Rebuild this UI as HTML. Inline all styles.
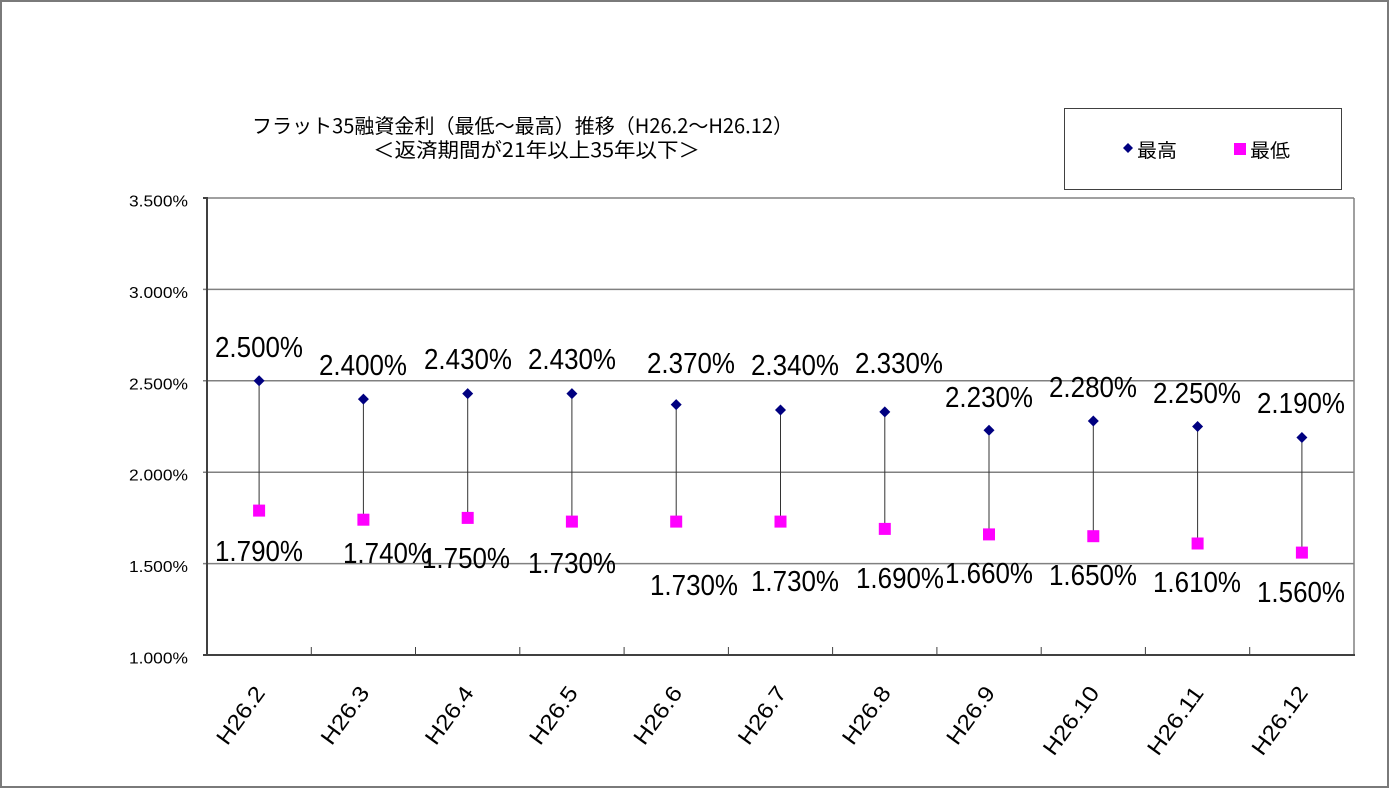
<!DOCTYPE html>
<html><head><meta charset="utf-8">
<style>
html,body{margin:0;padding:0;background:#fff;}
svg{display:block;}
text{font-family:"Liberation Sans","Noto Sans CJK JP",sans-serif;fill:#000;}
.jp{font-family:"Noto Sans CJK JP","Liberation Sans",sans-serif;}
</style></head>
<body>
<svg width="1391" height="790" viewBox="0 0 1391 790" xmlns="http://www.w3.org/2000/svg">
<rect x="0" y="0" width="1391" height="790" fill="#fff"/>
<rect x="1" y="1" width="1387" height="786" fill="none" stroke="#7a7a7a" stroke-width="2"/>

<!-- title -->
<text class="jp" x="252" y="133" font-size="20" textLength="541" lengthAdjust="spacingAndGlyphs">フラット35融資金利（最低～最高）推移（H26.2～H26.12）</text>
<text class="jp" x="373" y="157" font-size="20" textLength="327" lengthAdjust="spacingAndGlyphs">＜返済期間が21年以上35年以下＞</text>

<!-- legend -->
<rect x="1064.5" y="108.5" width="277" height="81" fill="#fff" stroke="#404040" stroke-width="1"/>
<polygon points="1128,143 1133,148 1128,153 1123,148" fill="#000080"/>
<text class="jp" x="1137" y="157" font-size="19" textLength="40" lengthAdjust="spacingAndGlyphs">最高</text>
<rect x="1234" y="143" width="12" height="12" fill="#ff00ff"/>
<text class="jp" x="1250" y="157" font-size="19" textLength="40" lengthAdjust="spacingAndGlyphs">最低</text>

<!-- plot area -->
<g stroke="#808080" stroke-width="1.5" fill="none">
<line x1="203" y1="289.4" x2="1354" y2="289.4"/>
<line x1="203" y1="380.8" x2="1354" y2="380.8"/>
<line x1="203" y1="472.2" x2="1354" y2="472.2"/>
<line x1="203" y1="563.6" x2="1354" y2="563.6"/>
<line x1="207" y1="198" x2="1354" y2="198"/>
<line x1="1354" y1="198" x2="1354" y2="655"/>
</g>
<line x1="203" y1="198" x2="207" y2="198" stroke="#404040" stroke-width="2"/>
<line x1="203" y1="655" x2="207" y2="655" stroke="#404040" stroke-width="2"/>
<line x1="207" y1="197" x2="207" y2="656" stroke="#404040" stroke-width="2"/>
<line x1="206" y1="655" x2="1355" y2="655" stroke="#404040" stroke-width="2"/>
<g stroke="#404040" stroke-width="1">
<line x1="311.3" y1="647" x2="311.3" y2="655"/>
<line x1="415.5" y1="647" x2="415.5" y2="655"/>
<line x1="519.8" y1="647" x2="519.8" y2="655"/>
<line x1="624.1" y1="647" x2="624.1" y2="655"/>
<line x1="728.4" y1="647" x2="728.4" y2="655"/>
<line x1="832.6" y1="647" x2="832.6" y2="655"/>
<line x1="936.9" y1="647" x2="936.9" y2="655"/>
<line x1="1041.2" y1="647" x2="1041.2" y2="655"/>
<line x1="1145.4" y1="647" x2="1145.4" y2="655"/>
<line x1="1249.7" y1="647" x2="1249.7" y2="655"/>
</g>

<!-- y labels -->
<g font-size="15.5" text-anchor="end">
<text x="188" y="206.5" textLength="59" lengthAdjust="spacingAndGlyphs">3.500%</text>
<text x="188" y="298" textLength="59" lengthAdjust="spacingAndGlyphs">3.000%</text>
<text x="188" y="389.3" textLength="59" lengthAdjust="spacingAndGlyphs">2.500%</text>
<text x="188" y="480.7" textLength="59" lengthAdjust="spacingAndGlyphs">2.000%</text>
<text x="188" y="572.1" textLength="59" lengthAdjust="spacingAndGlyphs">1.500%</text>
<text x="188" y="663.5" textLength="59" lengthAdjust="spacingAndGlyphs">1.000%</text>
</g>

<!-- x labels -->
<g font-size="22" text-anchor="end">
<text transform="translate(266,693) rotate(-54)" textLength="66" lengthAdjust="spacingAndGlyphs">H26.2</text>
<text transform="translate(370.4,693) rotate(-54)" textLength="66" lengthAdjust="spacingAndGlyphs">H26.3</text>
<text transform="translate(474.7,693) rotate(-54)" textLength="66" lengthAdjust="spacingAndGlyphs">H26.4</text>
<text transform="translate(578.9,693) rotate(-54)" textLength="66" lengthAdjust="spacingAndGlyphs">H26.5</text>
<text transform="translate(683.2,693) rotate(-54)" textLength="66" lengthAdjust="spacingAndGlyphs">H26.6</text>
<text transform="translate(787.5,693) rotate(-54)" textLength="66" lengthAdjust="spacingAndGlyphs">H26.7</text>
<text transform="translate(891.8,693) rotate(-54)" textLength="66" lengthAdjust="spacingAndGlyphs">H26.8</text>
<text transform="translate(996,693) rotate(-54)" textLength="66" lengthAdjust="spacingAndGlyphs">H26.9</text>
<text transform="translate(1100.3,693) rotate(-54)" textLength="79" lengthAdjust="spacingAndGlyphs">H26.10</text>
<text transform="translate(1204.6,693) rotate(-54)" textLength="79" lengthAdjust="spacingAndGlyphs">H26.11</text>
<text transform="translate(1308.9,693) rotate(-54)" textLength="79" lengthAdjust="spacingAndGlyphs">H26.12</text>
</g>

<!-- connecting lines -->
<g stroke="#333" stroke-width="1">
<line x1="259.1" y1="380.8" x2="259.1" y2="510.6"/>
<line x1="363.4" y1="399.1" x2="363.4" y2="519.7"/>
<line x1="467.7" y1="393.6" x2="467.7" y2="517.9"/>
<line x1="571.9" y1="393.6" x2="571.9" y2="521.6"/>
<line x1="676.2" y1="404.6" x2="676.2" y2="521.6"/>
<line x1="780.5" y1="410.0" x2="780.5" y2="521.6"/>
<line x1="884.8" y1="411.9" x2="884.8" y2="528.9"/>
<line x1="989.0" y1="430.2" x2="989.0" y2="534.4"/>
<line x1="1093.3" y1="421.0" x2="1093.3" y2="536.2"/>
<line x1="1197.6" y1="426.5" x2="1197.6" y2="543.5"/>
<line x1="1301.9" y1="437.5" x2="1301.9" y2="552.6"/>
</g>

<!-- high markers -->
<g fill="#000080">
<polygon points="259.1,375.3 264.6,380.8 259.1,386.3 253.6,380.8"/>
<polygon points="363.4,393.6 368.9,399.1 363.4,404.6 357.9,399.1"/>
<polygon points="467.7,388.1 473.2,393.6 467.7,399.1 462.2,393.6"/>
<polygon points="571.9,388.1 577.4,393.6 571.9,399.1 566.4,393.6"/>
<polygon points="676.2,399.1 681.7,404.6 676.2,410.1 670.7,404.6"/>
<polygon points="780.5,404.5 786,410.0 780.5,415.5 775,410.0"/>
<polygon points="884.8,406.4 890.3,411.9 884.8,417.4 879.3,411.9"/>
<polygon points="989.0,424.7 994.5,430.2 989.0,435.7 983.5,430.2"/>
<polygon points="1093.3,415.5 1098.8,421.0 1093.3,426.5 1087.8,421.0"/>
<polygon points="1197.6,421.0 1203.1,426.5 1197.6,432.0 1192.1,426.5"/>
<polygon points="1301.9,432.0 1307.4,437.5 1301.9,443.0 1296.4,437.5"/>
</g>

<!-- low markers -->
<g fill="#ff00ff">
<rect x="253.1" y="504.6" width="12" height="12"/>
<rect x="357.4" y="513.7" width="12" height="12"/>
<rect x="461.7" y="511.9" width="12" height="12"/>
<rect x="565.9" y="515.6" width="12" height="12"/>
<rect x="670.2" y="515.6" width="12" height="12"/>
<rect x="774.5" y="515.6" width="12" height="12"/>
<rect x="878.8" y="522.9" width="12" height="12"/>
<rect x="983.0" y="528.4" width="12" height="12"/>
<rect x="1087.3" y="530.2" width="12" height="12"/>
<rect x="1191.6" y="537.5" width="12" height="12"/>
<rect x="1295.9" y="546.6" width="12" height="12"/>
</g>

<!-- data labels -->
<g font-size="29" text-anchor="middle">
<text x="259" y="357" textLength="88" lengthAdjust="spacingAndGlyphs">2.500%</text>
<text x="363" y="375" textLength="88" lengthAdjust="spacingAndGlyphs">2.400%</text>
<text x="468" y="369" textLength="88" lengthAdjust="spacingAndGlyphs">2.430%</text>
<text x="572" y="369" textLength="88" lengthAdjust="spacingAndGlyphs">2.430%</text>
<text x="691" y="373" textLength="88" lengthAdjust="spacingAndGlyphs">2.370%</text>
<text x="795" y="375" textLength="88" lengthAdjust="spacingAndGlyphs">2.340%</text>
<text x="899" y="373" textLength="88" lengthAdjust="spacingAndGlyphs">2.330%</text>
<text x="989" y="407" textLength="88" lengthAdjust="spacingAndGlyphs">2.230%</text>
<text x="1093" y="397" textLength="88" lengthAdjust="spacingAndGlyphs">2.280%</text>
<text x="1197" y="403" textLength="88" lengthAdjust="spacingAndGlyphs">2.250%</text>
<text x="1301" y="413" textLength="88" lengthAdjust="spacingAndGlyphs">2.190%</text>

<text x="259" y="561" textLength="88" lengthAdjust="spacingAndGlyphs">1.790%</text>
<text x="387" y="563" textLength="88" lengthAdjust="spacingAndGlyphs">1.740%</text>
<text x="466" y="568" textLength="88" lengthAdjust="spacingAndGlyphs">1.750%</text>
<text x="572" y="573" textLength="88" lengthAdjust="spacingAndGlyphs">1.730%</text>
<text x="694" y="595" textLength="88" lengthAdjust="spacingAndGlyphs">1.730%</text>
<text x="795" y="591" textLength="88" lengthAdjust="spacingAndGlyphs">1.730%</text>
<text x="900" y="588" textLength="88" lengthAdjust="spacingAndGlyphs">1.690%</text>
<text x="989" y="583" textLength="88" lengthAdjust="spacingAndGlyphs">1.660%</text>
<text x="1093" y="585" textLength="88" lengthAdjust="spacingAndGlyphs">1.650%</text>
<text x="1197" y="592" textLength="88" lengthAdjust="spacingAndGlyphs">1.610%</text>
<text x="1301" y="602" textLength="88" lengthAdjust="spacingAndGlyphs">1.560%</text>
</g>
</svg>
</body></html>
